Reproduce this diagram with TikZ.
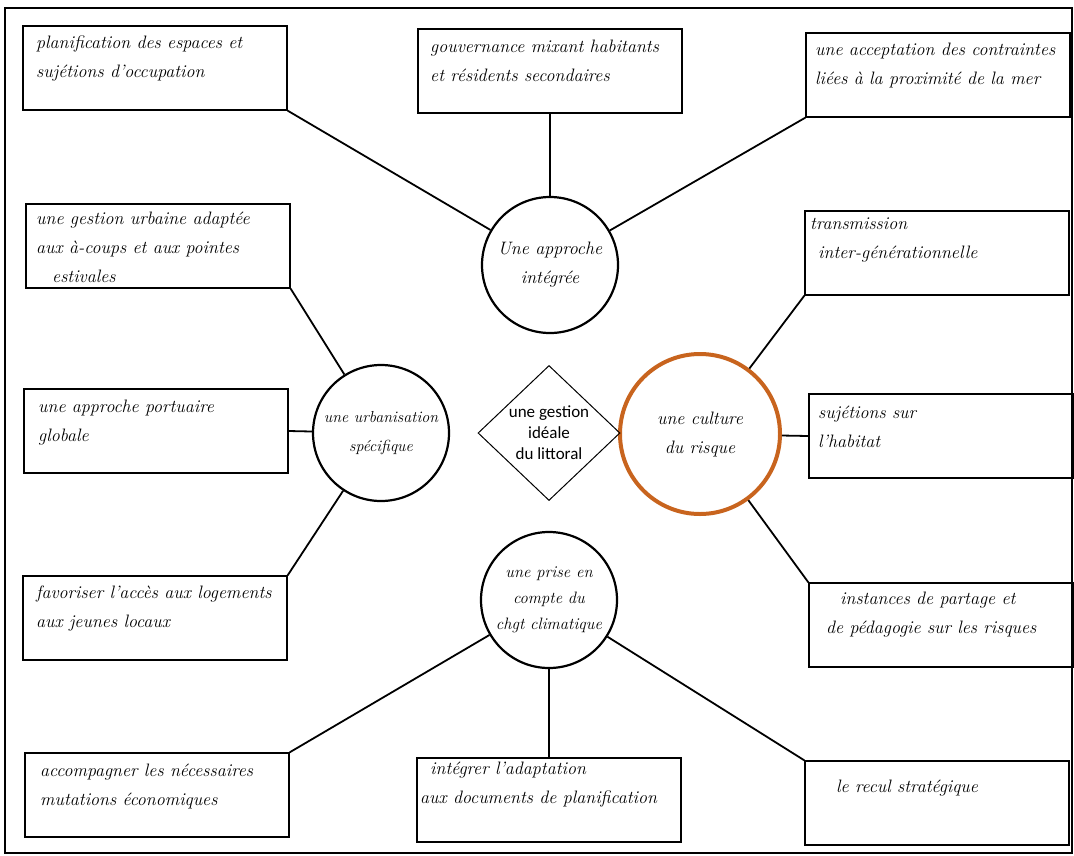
\documentclass[tikz,border=0pt]{standalone}
\usepackage{fontspec}
\newfontfamily\diafont{Carlito}
\usetikzlibrary{shapes.geometric}
\definecolor{rorange}{RGB}{200,100,30}
\tikzset{
  box/.style={draw, line width=1.3pt, rectangle, minimum width=264pt, minimum height=84pt, inner sep=0pt},
  boxtext/.style={anchor=north west, align=left, font=\fontsize{18}{29}\selectfont\itshape, inner sep=0pt},
  hub/.style={draw, line width=2.2pt, circle, minimum size=136pt, inner sep=0pt, align=center, font=\fontsize{18}{29}\selectfont\itshape},
  link/.style={line width=1.8pt},
}
\begin{document}
\begin{tikzpicture}[x=1pt,y=-1pt]
\useasboundingbox (0,0) rectangle (1074,855);
\draw[line width=2.2pt] (5,8) rectangle (1072,853);

% hubs
\node[hub] (top) at (550,265) {Une approche\\intégrée};
\node[hub, font=\fontsize{16}{29}\selectfont\itshape] (left) at (381,433) {une urbanisation\\spécifique};
\node[hub, font=\fontsize{16.5}{26}\selectfont\itshape] (bot) at (549,600) {une prise en\\compte du\\chgt climatique};
\node[hub, draw=rorange, line width=4pt, minimum size=160pt] (right) at (700,434) {une culture\\du risque};
\node[draw, line width=1pt, diamond, minimum width=142pt, minimum height=135pt, inner sep=0pt, align=center, font=\diafont\fontsize{17}{21}\selectfont] (center) at (549,433) {une gestion\\idéale\\du littoral};

% boxes
\node[box] (b1) at (155,68) {};
\node[box] (b2) at (550,71) {};
\node[box] (b3) at (938,75) {};
\node[box] (b4) at (158,246) {};
\node[box] (b5) at (937,253) {};
\node[box] (b6) at (156,431) {};
\node[box] (b7) at (941,436) {};
\node[box] (b8) at (155,618) {};
\node[box] (b9) at (941,625) {};
\node[box] (b10) at (157,795) {};
\node[box] (b11) at (549,800) {};
\node[box] (b12) at (937,803) {};

% texts
\node[boxtext] (t1) at (36,36) {planification des espaces et\\sujétions d'occupation};
\node[boxtext] (t2) at (430,40) {gouvernance mixant habitants\\et résidents secondaires};
\node[boxtext] (t3) at (815,43) {une acceptation des contraintes\\liées à la proximité de la mer};
\node[boxtext] (t4) at (36,212) {une gestion urbaine adaptée\\aux à-coups et aux pointes\\\hspace*{16pt}estivales};
\node[boxtext] (t5) at (810,218) {transmission\\\hspace*{8pt}inter-générationnelle};
\node[boxtext] (t6) at (38,400) {une approche portuaire\\globale};
\node[boxtext] (t7) at (818,406) {sujétions sur\\l'habitat};
\node[boxtext] (t8) at (36,586) {favoriser l'accès aux logements\\aux jeunes locaux};
\node[boxtext] (t9) at (826,592) {\hspace*{14pt}instances de partage et\\de pédagogie sur les risques};
\node[boxtext] (t10) at (40,764) {accompagner les nécessaires\\mutations économiques};
\node[boxtext] (t11) at (420,762) {\hspace*{10pt}intégrer l'adaptation\\aux documents de planification};
\node[boxtext] (t12) at (836,780) {le recul stratégique};

% connectors
\draw[link] (b1.south east) -- (top);
\draw[link] (b2.south) -- (top);
\draw[link] (b3.south west) -- (top);
\draw[link] (b4.south east) -- (left);
\draw[link] (b6.east) -- (left);
\draw[link] (b8.north east) -- (left);
\draw[link] (b5.south west) -- (right);
\draw[link] (b7.west) -- (right);
\draw[link] (b9.north west) -- (right);
\draw[link] (b10.north east) -- (bot);
\draw[link] (b11.north) -- (bot);
\draw[link] (b12.north west) -- (bot);
\end{tikzpicture}
\end{document}
